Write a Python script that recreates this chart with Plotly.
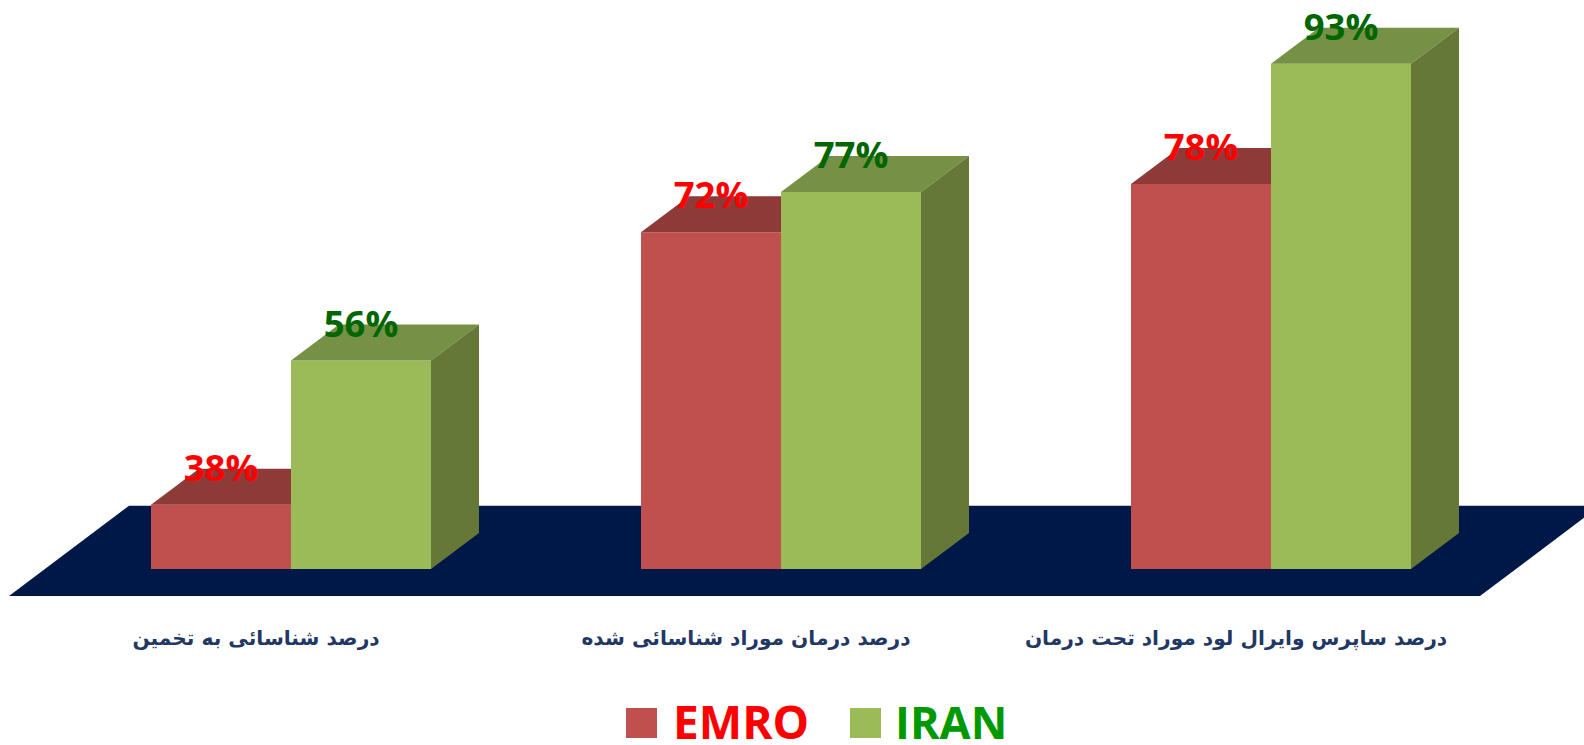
import numpy as np
import plotly.graph_objects as go

categories = ["درصد شناسائی به تخمین", "درصد درمان موراد شناسائی شده", "درصد ساپرس وایرال لود موراد تحت درمان"]
emro_values = [38, 72, 78]
iran_values = [56, 77, 93]
series_names = ["EMRO", "IRAN"]

W, H = 1584, 745
PLOT_H = 597
Y0_PX, PX_PER_PCT = 569.0, 8.02      # pixel of the axis floor (30%), scale
X0_PX, PX_PER_GROUP = 291.0, 490.0   # pixel of first group's centre, group spacing
BASE = 30
BAR_PX = 140
DX = 48 / PX_PER_GROUP
DY = 36 / PX_PER_PCT
BARW = BAR_PX / PX_PER_GROUP
LABEL_SHIFT = -35 / PX_PER_GROUP
TEXT_DROP = 3 / PX_PER_PCT

RED, RED_TOP = "#C0504D", "#8E3A38"
GREEN, GREEN_TOP, GREEN_SIDE = "#9BBB59", "#769045", "#657837"
FLOOR = "#001848"

idx = np.arange(len(categories))
emro = np.array(emro_values, float)
iran = np.array(iran_values, float)

def poly(xs, ys):
    X, Y = [], []
    for a, b in zip(xs, ys):
        X += list(a) + [a[0], None]
        Y += list(b) + [b[0], None]
    return X, Y

def face(X, Y, color):
    return go.Scatter(x=X, y=Y, mode="lines", fill="toself", fillcolor=color,
                      line=dict(width=0, color=color), hoverinfo="skip", showlegend=False)

fig = go.Figure()
fig.add_bar(x=idx, y=emro - BASE, base=BASE, name=series_names[0], marker=dict(color=RED, line=dict(width=0)),
            showlegend=False, customdata=emro, hovertemplate="%{customdata}%")
fig.add_bar(x=idx, y=iran - BASE, base=BASE, name=series_names[1], marker=dict(color=GREEN, line=dict(width=0)),
            showlegend=False, customdata=iran, hovertemplate="%{customdata}%")

# red top face: the right part is hidden behind the green bar
X, Y = poly([[i - BARW, i, i, i - BARW + DX] for i in idx],
            [[v, v, v + DY, v + DY] for v in emro])
fig.add_trace(face(X, Y, RED_TOP))
# green top face
X, Y = poly([[i, i + BARW, i + BARW + DX, i + DX] for i in idx],
            [[v, v, v + DY, v + DY] for v in iran])
fig.add_trace(face(X, Y, GREEN_TOP))
# green side face
X, Y = poly([[i + BARW, i + BARW + DX, i + BARW + DX, i + BARW] for i in idx],
            [[BASE, BASE + DY, v + DY, v] for v in iran])
fig.add_trace(face(X, Y, GREEN_SIDE))

# value labels
LABEL_FONT = "Open Sans"
fig.add_trace(go.Scatter(x=idx - BARW / 2, y=emro + DY - TEXT_DROP, mode="text", text=[f"{v:.0f}%" for v in emro],
                         textposition="middle center", cliponaxis=False, hoverinfo="skip", showlegend=False,
                         textfont=dict(family=LABEL_FONT, size=36.5, color="#FF0000", weight="bold")))
fig.add_trace(go.Scatter(x=idx + BARW / 2, y=iran + DY - TEXT_DROP, mode="text", text=[f"{v:.0f}%" for v in iran],
                         textposition="middle center", cliponaxis=False, hoverinfo="skip", showlegend=False,
                         textfont=dict(family=LABEL_FONT, size=36.5, color="#006600", weight="bold")))

def xd(px): return (px - X0_PX) / PX_PER_GROUP
def yd(px): return BASE + (Y0_PX - px) / PX_PER_PCT
def xp(px): return px / W
def yp(px): return 1 - px / PLOT_H

# floor
floor = [(9, 596), (1480, 596), (1600, 505.7), (129, 505.7)]
path = "M " + " L ".join(f"{xd(a):.4f},{yd(b):.4f}" for a, b in floor) + " Z"
shapes = [dict(type="path", path=path, xref="x", yref="y", layer="below", fillcolor=FLOOR, line=dict(width=0))]

# legend
LEG_Y0, LEG_Y1 = 708, 738
annotations = []
for x0, color, name, tx, tc, fs in [(626, RED, series_names[0], 671, "#FF0000", 46),
                                    (850, GREEN, series_names[1], 893, "#009900", 45)]:
    shapes.append(dict(type="rect", xref="paper", yref="paper", x0=xp(x0), x1=xp(x0 + 31),
                       y0=yp(LEG_Y1), y1=yp(LEG_Y0), fillcolor=color, line=dict(width=0)))
    annotations.append(dict(xref="paper", yref="paper", x=xp(tx), y=yp(721), text=name, showarrow=False,
                            xanchor="left", yanchor="middle", height=44,
                            font=dict(family=LABEL_FONT, size=fs, color=tc, weight="bold")))

fig.update_layout(
    width=W, height=H, margin=dict(l=0, r=0, t=0, b=H - PLOT_H, pad=0), autosize=False,
    paper_bgcolor="white", plot_bgcolor="white", barmode="group",
    bargap=1 - 2 * BARW, bargroupgap=0, showlegend=False,
    shapes=shapes, annotations=annotations,
    xaxis=dict(range=[xd(0), xd(W)], tickmode="array", tickvals=idx + LABEL_SHIFT, ticktext=categories,
               showgrid=False, zeroline=False, showline=False, ticks="", ticklabelstandoff=27,
               tickangle=0, tickfont=dict(family="DejaVu Sans", size=20.2, color="#1F3864", weight="bold")),
    yaxis=dict(range=[yd(PLOT_H), yd(0)], showgrid=False, zeroline=False, showline=False,
               showticklabels=False, ticks=""),
)
fig.write_html("out.html", config=dict(displayModeBar=False),
               post_script="document.body.style.margin='0';document.documentElement.style.overflow='hidden';")
